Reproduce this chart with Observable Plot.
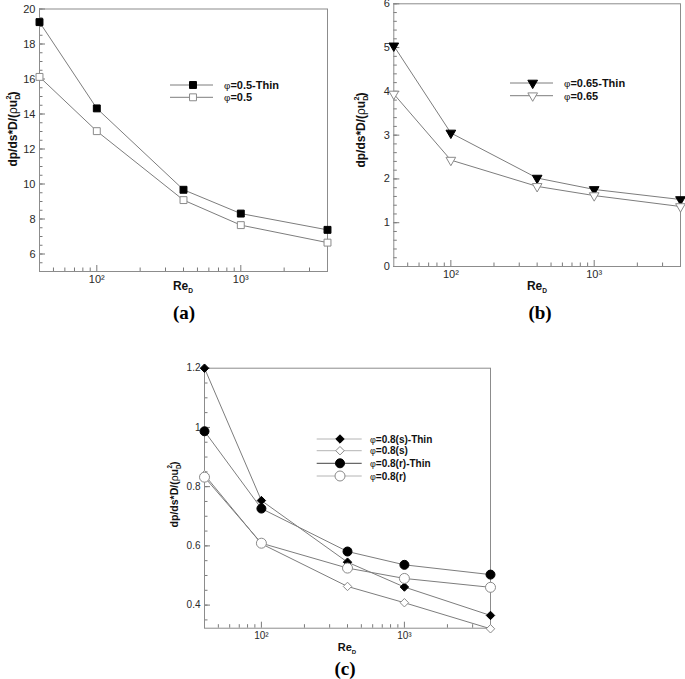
<!DOCTYPE html>
<html><head><meta charset="utf-8">
<script src="https://cdn.jsdelivr.net/npm/d3@7"></script>
<script src="https://cdn.jsdelivr.net/npm/@observablehq/plot@0.6"></script>
<style>
body{margin:0;background:#fff;}
#wrap{position:relative;width:685px;height:679px;overflow:hidden;}
#wrap svg{position:absolute;overflow:visible;}
</style></head><body><div id="wrap"></div>
<script>
// ---- data ----
const re = [40, 100, 400, 1000, 4000];
const aThin = [19.25, 14.32, 9.67, 8.31, 7.38];
const aBase = [16.12, 13.02, 9.08, 7.65, 6.65];
const bThin = [5.04, 3.05, 2.02, 1.76, 1.53];
const bBase = [3.94, 2.43, 1.83, 1.62, 1.37];
const cSThin = [1.2, 0.753, 0.545, 0.461, 0.365];
const cS = [0.84, 0.607, 0.463, 0.408, 0.32];
const cRThin = [0.987, 0.726, 0.581, 0.536, 0.503];
const cR = [0.832, 0.609, 0.525, 0.49, 0.46];
const xMajor = [100, 1000];
const xMinor = [50, 60, 70, 80, 90, 200, 300, 400, 500, 600, 700, 800, 900, 2000, 3000];
const aYMajor = [6, 8, 10, 12, 14, 16, 18, 20];
const bYMajor = [0, 1, 2, 3, 4, 5, 6];
const cYMajor = [0.4, 0.6, 0.8, 1, 1.2];

const SANS = '"Liberation Sans", Arial, sans-serif';
const SERIF = '"Liberation Serif", "Times New Roman", serif';
const sup = {2: "\u00b2", 3: "\u00b3"};
const symMap = {square: d3.symbolSquare, triangle: d3.symbolTriangle, diamond2: d3.symbolDiamond2, circle: d3.symbolCircle};

function range(a, b, step) { const out = []; for (let v = a; v <= b + 1e-9; v += step) out.push(+v.toFixed(4)); return out; }

function makePanel(cfg) {
  const rows = cfg.series.flatMap(s => re.map((x, i) => ({x, y: s.values[i], name: s.name})));
  const marks = [
    Plot.axisY(cfg.yMinor, {tickSize: -3.5, tickFormat: () => "", stroke: "#7a7a7a", label: null}),
    Plot.axisY(cfg.yMajor, {tickSize: -6, tickPadding: 10, tickFormat: cfg.yFmt, stroke: "#7a7a7a", fill: "#2a2a2a", fontSize: cfg.tickFont, label: null}),
    Plot.axisX(xMinor, {tickSize: -3.5, tickFormat: () => "", stroke: "#7a7a7a", label: null}),
    Plot.axisX(xMajor, {tickSize: -6, tickPadding: 10, tickFormat: d => "10" + sup[Math.round(Math.log10(d))], stroke: "#7a7a7a", fill: "#2a2a2a", fontSize: cfg.tickFont, label: null}),
    Plot.frame({stroke: "#8c8c8c"}),
    Plot.line(rows, {x: "x", y: "y", z: "name", stroke: "#7d7d7d", strokeWidth: 1}),
    ...cfg.series.map(s => Plot.dot(rows.filter(d => d.name === s.name), {
      x: "x", y: "y", symbol: s.symbol, r: s.r, fill: s.fill, stroke: s.stroke, strokeWidth: 1, rotate: s.rotate || 0
    }))
  ];
  const svg = Plot.plot({
    width: cfg.width, height: cfg.height,
    marginLeft: cfg.m[3], marginRight: cfg.m[1], marginTop: cfg.m[0], marginBottom: cfg.m[2],
    x: {type: "log", domain: [40, 4000]},
    y: {domain: cfg.yDomain},
    style: {fontFamily: SANS, background: "transparent", overflow: "visible"},
    marks
  });
  svg.style.left = cfg.left + "px";
  svg.style.top = cfg.top + "px";
  const g = d3.select(svg);

  // y label
  const yl = g.append("text")
    .attr("transform", `translate(${cfg.yLabel[0]},${cfg.yLabel[1]}) rotate(-90)`)
    .attr("text-anchor", "middle").attr("font-family", SANS).attr("font-weight", "bold")
    .attr("font-size", cfg.labelFont).attr("fill", "#111");
  yl.append("tspan").text("dp/ds*D/(");
  yl.append("tspan").attr("font-weight", "normal").text("\u03c1");
  yl.append("tspan").text("u");
  yl.append("tspan").attr("font-size", cfg.labelFont * 0.6).attr("dy", 3).text("D");
  yl.append("tspan").attr("font-size", cfg.labelFont * 0.6).attr("dx", -cfg.labelFont * 0.4).attr("dy", -9).text("2");
  yl.append("tspan").attr("dy", 6).text(")");

  // x label
  const xl = g.append("text").attr("x", cfg.xLabel[0]).attr("y", cfg.xLabel[1])
    .attr("text-anchor", "middle").attr("font-family", SANS).attr("font-weight", "bold")
    .attr("font-size", cfg.xLabelFont).attr("fill", "#111");
  xl.append("tspan").text("Re");
  xl.append("tspan").attr("font-size", cfg.xLabelFont * 0.55).attr("dy", 3).text("D");

  // panel letter
  g.append("text").attr("x", cfg.letter[0]).attr("y", cfg.letter[1]).attr("text-anchor", "middle")
    .attr("font-family", SERIF).attr("font-weight", "bold").attr("font-size", 19).attr("fill", "#000")
    .text(cfg.letter[2]);

  // legend
  const L = cfg.legend;
  cfg.series.forEach((s, i) => {
    const y = L.rows[i];
    g.append("line").attr("x1", L.x1).attr("x2", L.x2).attr("y1", y).attr("y2", y)
      .attr("stroke", s.legendStroke || "#7d7d7d").attr("stroke-width", 1);
    g.append("path").attr("d", d3.symbol(symMap[s.symbol], Math.PI * s.r * s.r)())
      .attr("transform", `translate(${L.sx},${y}) rotate(${s.rotate || 0})`)
      .attr("fill", s.fill).attr("stroke", s.stroke);
    const t = g.append("text").attr("x", L.tx).attr("y", y).attr("dy", "0.36em").attr("text-anchor", "start")
      .attr("font-family", SANS).attr("font-weight", "bold").attr("font-size", L.font).attr("fill", "#111");
    t.append("tspan").attr("font-weight", "normal").attr("font-size", L.font * 0.9).text("\u03c6");
    t.append("tspan").text(s.name.slice(1));
  });

  document.getElementById("wrap").appendChild(svg);
}

makePanel({
  left: 0, top: 0, width: 340, height: 330, m: [8.5, 13, 59, 39],
  yDomain: [5, 20], yMajor: aYMajor, yMinor: range(5, 20, 0.5), yFmt: d => d, tickFont: 11, labelFont: 12, xLabelFont: 12,
  yLabel: [17, 129], xLabel: [183, 290], letter: [184, 319, "(a)"],
  legend: {x1: 170, x2: 213, sx: 193, tx: 224, rows: [85, 97.3], font: 11},
  series: [
    {name: "\u03c6=0.5-Thin", values: aThin, symbol: "square", r: 3.9, fill: "#000", stroke: "#000"},
    {name: "\u03c6=0.5", values: aBase, symbol: "square", r: 3.9, fill: "#fff", stroke: "#8a8a8a"}
  ]
});

makePanel({
  left: 340, top: 0, width: 345, height: 330, m: [3.3, 5, 64, 53.3],
  yDomain: [0, 6], yMajor: bYMajor, yMinor: range(0, 6, 0.2), yFmt: d => d, tickFont: 11, labelFont: 12, xLabelFont: 12,
  yLabel: [25, 130], xLabel: [197, 290], letter: [200, 319, "(b)"],
  legend: {x1: 170, x2: 213, sx: 192.7, tx: 224, rows: [83, 95.7], font: 11},
  series: [
    {name: "\u03c6=0.65-Thin", values: bThin, symbol: "triangle", r: 3.6, rotate: 180, fill: "#000", stroke: "#000"},
    {name: "\u03c6=0.65", values: bBase, symbol: "triangle", r: 3.6, rotate: 180, fill: "#fff", stroke: "#8a8a8a"}
  ]
});

makePanel({
  left: 150, top: 330, width: 400, height: 349, m: [37.7, 60, 51.3, 54],
  yDomain: [0.322, 1.2], yMajor: cYMajor, yMinor: range(0.35, 1.2, 0.05), yFmt: d => String(d), tickFont: 10, labelFont: 10.5, xLabelFont: 11,
  yLabel: [28, 164.5], xLabel: [197, 320.7], letter: [195, 345, "(c)"],
  legend: {x1: 166.7, x2: 211.7, sx: 190, tx: 220, rows: [109, 120.7, 133.3, 146], font: 10},
  series: [
    {name: "\u03c6=0.8(s)-Thin", values: cSThin, symbol: "diamond2", r: 3.8, fill: "#000", stroke: "#000", legendStroke: "#b4b4b4"},
    {name: "\u03c6=0.8(s)", values: cS, symbol: "diamond2", r: 3.8, fill: "#fff", stroke: "#8a8a8a", legendStroke: "#b4b4b4"},
    {name: "\u03c6=0.8(r)-Thin", values: cRThin, symbol: "circle", r: 4.5, fill: "#000", stroke: "#000", legendStroke: "#444"},
    {name: "\u03c6=0.8(r)", values: cR, symbol: "circle", r: 5, fill: "#fff", stroke: "#8a8a8a", legendStroke: "#b4b4b4"}
  ]
});
</script>
</body></html>
